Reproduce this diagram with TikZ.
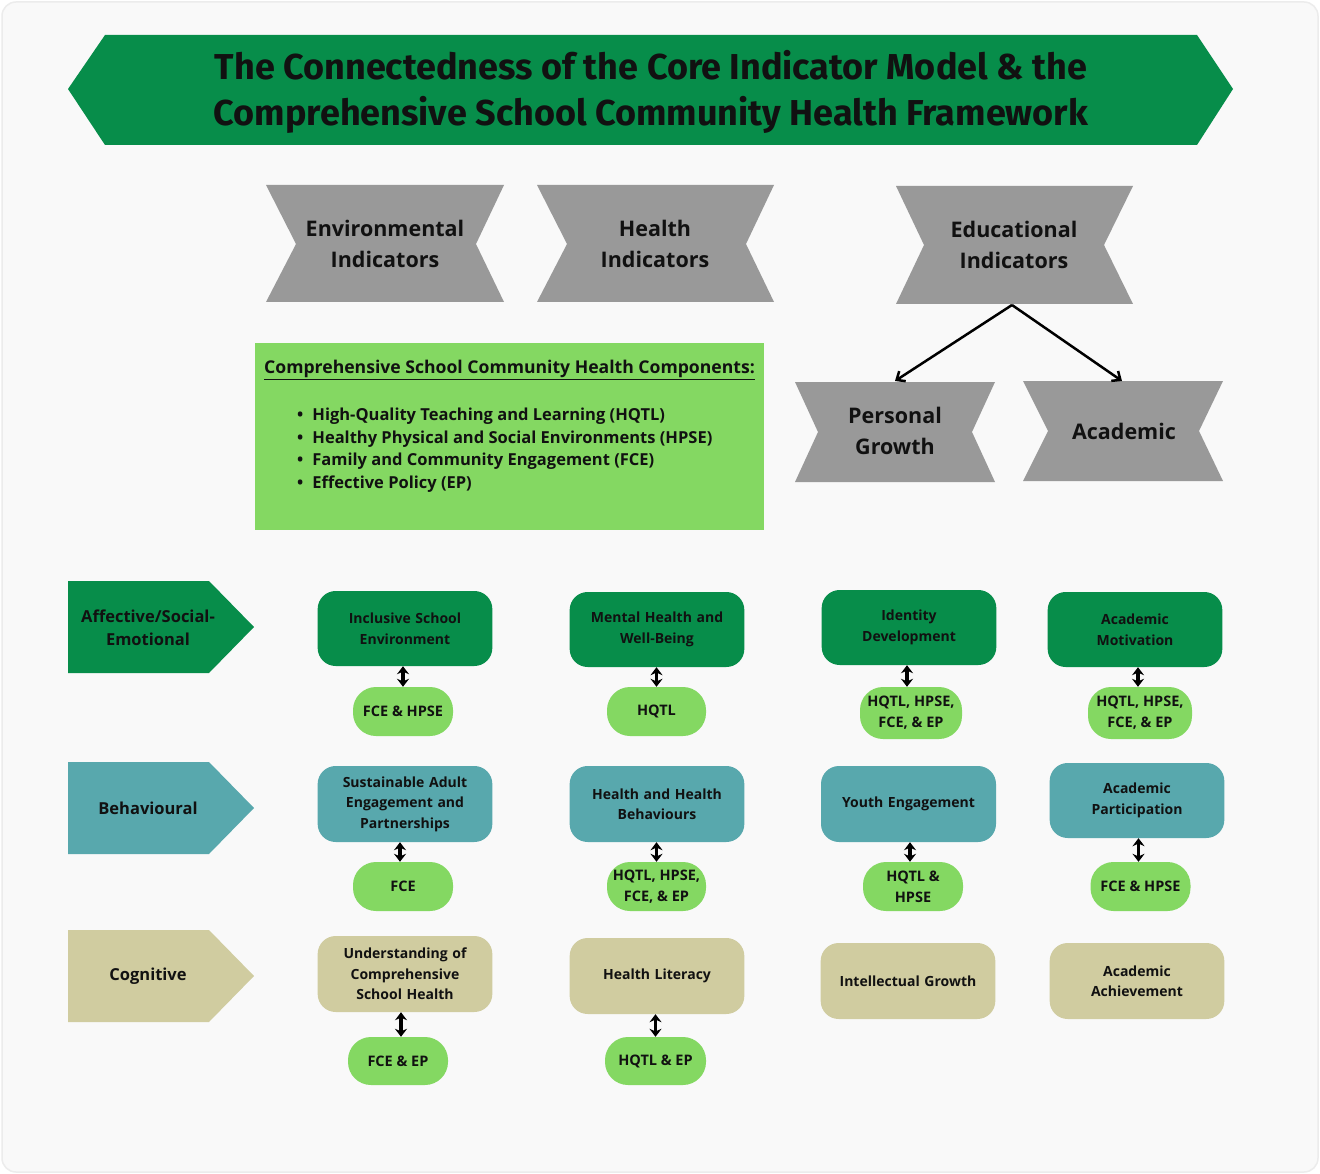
\documentclass[tikz,border=0pt]{standalone}
\usepackage{fontspec}
\setmainfont{Open Sans}
\newfontfamily\titlefont{Fira Sans}
\usetikzlibrary{arrows.meta}

\definecolor{bgcol}{RGB}{249,249,249}
\definecolor{cardline}{RGB}{236,236,236}
\definecolor{darkgreen}{RGB}{7,141,74}
\definecolor{lightgreen}{RGB}{132,216,98}
\definecolor{tealc}{RGB}{88,168,173}
\definecolor{khaki}{RGB}{208,204,160}
\definecolor{indgray}{RGB}{153,153,153}
\definecolor{ink}{RGB}{17,17,17}

\tikzset{
  indtext/.style={align=center, text=ink, font=\fontsize{21.5}{31}\selectfont\bfseries},
  rowlabel/.style={align=center, text=ink, font=\fontsize{16.5}{23}\selectfont\bfseries},
  rbox/.style={rectangle, rounded corners=18pt, minimum width=174pt, minimum height=75pt,
    align=center, text width=168pt, text=ink, font=\fontsize{14}{20.5}\selectfont\bfseries},
  pill/.style={rectangle, rounded corners=23pt, fill=lightgreen, minimum width=100pt,
    minimum height=49pt, align=center, text=ink, inner sep=1pt,
    font=\fontsize{14.5}{21}\selectfont\bfseries},
  dbl/.style={{Stealth[length=8pt,width=12pt]}-{Stealth[length=8pt,width=12pt]}, line width=3.2pt, draw=black},
  branch/.style={-{Straight Barb[length=7pt,width=12pt]}, line width=2.5pt, draw=black},
}

\begin{document}
\begin{tikzpicture}[x=1pt, y=-1pt]
\useasboundingbox (0,0) rectangle (1320,1174);
\fill[white] (0,0) rectangle (1320,1174);
\filldraw[fill=bgcol, draw=cardline, line width=1.5pt, rounded corners=14pt] (2,2) rectangle (1318,1172);

% ---- title banner ----
\fill[darkgreen] (68,89) -- (105,35) -- (1197,35) -- (1233,89) -- (1197,145) -- (105,145) -- cycle;
\node[align=center, text=ink, font=\fontsize{36}{46}\selectfont\titlefont\bfseries] (title) at (651,92)
  {The Connectedness of the Core Indicator Model \& the\\Comprehensive School Community Health Framework};

% ---- indicator ribbons ----
\fill[indgray] (266,185) -- (504,185) -- (476,244) -- (504,302) -- (266,302) -- (296,244) -- cycle;
\node[indtext] (env) at (385,244) {Environmental\\Indicators};

\fill[indgray] (537,185) -- (774,185) -- (746,244) -- (774,302) -- (537,302) -- (567,244) -- cycle;
\node[indtext] (hea) at (655,244) {Health\\Indicators};

\fill[indgray] (896,186) -- (1133,186) -- (1104,245) -- (1133,304) -- (896,304) -- (924,245) -- cycle;
\node[indtext] (edu) at (1014,245) {Educational\\Indicators};
\coordinate (edubot) at (1012,305);

\fill[indgray] (795,382) -- (995,382) -- (972,432) -- (995,482) -- (795,482) -- (818,432) -- cycle;
\node[indtext] (pg) at (895,431) {Personal\\Growth};
\coordinate (pgtop) at (895,381);

\fill[indgray] (1023,381) -- (1223,381) -- (1199,431) -- (1223,481) -- (1023,481) -- (1048,431) -- cycle;
\node[indtext] (acad) at (1124,431) {Academic};
\coordinate (acadtop) at (1122,381);

\draw[branch] (edubot) -- (pgtop);
\draw[branch] (edubot) -- (acadtop);

% ---- CSCH components box ----
\node[rectangle, fill=lightgreen, minimum width=509pt, minimum height=187pt, inner sep=0pt] (comp) at (509.5,436.5) {};
\node[anchor=west, text=ink, inner sep=0pt, font=\fontsize{17.6}{20}\selectfont\bfseries] (comptitle) at (264,370)
  {\underline{Comprehensive School Community Health Components:}};
\node[anchor=north west, align=left, text=ink, inner sep=0pt, font=\fontsize{16.5}{22.6}\selectfont\bfseries] (complist) at (297,408)
  {\textbullet\hspace{9pt}High-Quality Teaching and Learning (HQTL)\\
   \textbullet\hspace{9pt}Healthy Physical and Social Environments (HPSE)\\
   \textbullet\hspace{9pt}Family and Community Engagement (FCE)\\
   \textbullet\hspace{9pt}Effective Policy (EP)};

% ---- row labels ----
\fill[darkgreen] (68,581) -- (209,581) -- (254,627) -- (209,673) -- (68,673) -- cycle;
\node[rowlabel] (affect) at (148,628) {Affective/Social-\\Emotional};

\fill[tealc] (68,762) -- (209,762) -- (254,808) -- (209,854) -- (68,854) -- cycle;
\node[rowlabel] (behav) at (148,808) {Behavioural};

\fill[khaki] (68,930) -- (209,930) -- (254,976) -- (209,1022) -- (68,1022) -- cycle;
\node[rowlabel] (cogn) at (148,976) {Cognitive};

% ---- affective row ----
\node[rbox, fill=darkgreen] (a1) at (405,628.5) {Inclusive School\\Environment};
\node[rbox, fill=darkgreen] (a2) at (657,629.5) {Mental Health and\\Well-Being};
\node[rbox, fill=darkgreen] (a3) at (909,627.5) {Identity\\Development};
\node[rbox, fill=darkgreen, minimum width=172pt] (a4) at (1135,629.5) {Academic\\Motivation};

\node[pill] (pa1) at (403,711.5) {FCE \& HPSE};
\node[pill, minimum width=99pt] (pa2) at (656.5,711.5) {HQTL};
\node[pill, minimum width=102pt, minimum height=52pt] (pa3) at (911,713) {HQTL, HPSE,\\FCE, \& EP};
\node[pill, minimum width=104pt, minimum height=52pt] (pa4) at (1140,713) {HQTL, HPSE,\\FCE, \& EP};

\draw[dbl] (pa1.north) -- (pa1.north |- a1.south);
\draw[dbl] (pa2.north) -- (pa2.north |- a2.south);
\draw[dbl] ([xshift=-4pt]pa3.north) -- ([xshift=-4pt]pa3.north |- a3.south);
\draw[dbl] ([xshift=-2pt]pa4.north) -- ([xshift=-2pt]pa4.north |- a4.south);

% ---- behavioural row ----
\node[rbox, fill=tealc, minimum height=76pt] (b1) at (405,804) {Sustainable Adult\\Engagement and\\Partnerships};
\node[rbox, fill=tealc, minimum height=76pt] (b2) at (657,804) {Health and Health\\Behaviours};
\node[rbox, fill=tealc, minimum height=76pt, minimum width=175pt] (b3) at (908.5,804) {Youth Engagement};
\node[rbox, fill=tealc] (b4) at (1137,800.5) {Academic\\Participation};

\node[pill] (pb1) at (403,886.5) {FCE};
\node[pill, minimum width=99pt] (pb2) at (656.5,886.5) {HQTL, HPSE,\\FCE, \& EP};
\node[pill] (pb3) at (913,886.5) {HQTL \&\\HPSE};
\node[pill] (pb4) at (1140.5,886.5) {FCE \& HPSE};

\draw[dbl] ([xshift=-3pt]pb1.north) -- ([xshift=-3pt]pb1.north |- b1.south);
\draw[dbl] (pb2.north) -- (pb2.north |- b2.south);
\draw[dbl] ([xshift=-3pt]pb3.north) -- ([xshift=-3pt]pb3.north |- b3.south);
\draw[dbl] ([xshift=-2pt]pb4.north) -- ([xshift=-2pt]pb4.north |- b4.south);

% ---- cognitive row ----
\node[rbox, fill=khaki, minimum height=76pt] (c1) at (405,974) {Understanding of\\Comprehensive\\School Health};
\node[rbox, fill=khaki, minimum height=76pt] (c2) at (657,976) {Health Literacy};
\node[rbox, fill=khaki, minimum height=76pt] (c3) at (908,981) {Intellectual Growth};
\node[rbox, fill=khaki, minimum height=76pt] (c4) at (1137,981) {Academic\\Achievement};

\node[pill, minimum height=48pt] (pc1) at (398,1061) {FCE \& EP};
\node[pill, minimum width=101pt, minimum height=48pt] (pc2) at (655.5,1061) {HQTL \& EP};

\draw[dbl] ([xshift=3pt]pc1.north) -- ([xshift=3pt]pc1.north |- c1.south);
\draw[dbl] (pc2.north) -- (pc2.north |- c2.south);
\end{tikzpicture}
\end{document}
